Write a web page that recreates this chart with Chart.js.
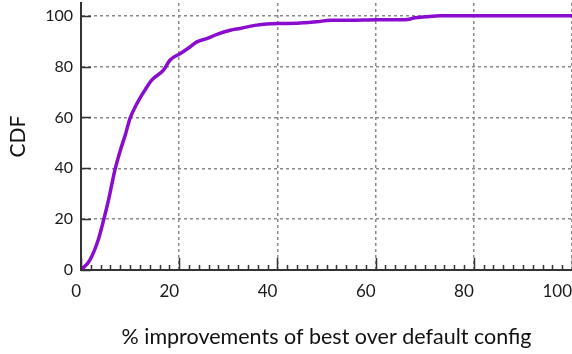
<!DOCTYPE html>
<html>
<head>
<meta charset="utf-8">
<script src="https://cdn.jsdelivr.net/npm/chart.js@4/dist/chart.umd.min.js"></script>
<style>
  html, body { margin: 0; padding: 0; background: #fff; }
  #wrap { width: 572px; height: 354px; }
</style>
</head>
<body>
<div id="wrap"><canvas id="cdf"></canvas></div>
<script>
// values
const improvement = [0, 1.8, 3.5, 4.6, 5.6, 6.9, 8, 9, 10, 11.4, 13, 14.4, 16.8, 18.1, 20.2, 22.2, 23.6, 25.6, 27.7, 30.4, 32.4, 35.8, 40.2, 44, 48, 50.8, 54.9, 60.3, 65, 66.5, 68, 70.2, 73.2, 80, 90, 100];
const cdf = [0, 3.9, 11.8, 19.6, 27.5, 39.3, 47, 53, 59.7, 65.5, 70.7, 74.7, 78.6, 82.5, 85.1, 87.7, 89.7, 91, 92.7, 94.3, 95, 96.3, 96.9, 97, 97.6, 98.2, 98.2, 98.4, 98.4, 98.5, 99.2, 99.6, 100, 100, 100, 100];
const xTicks = [0, 20, 40, 60, 80, 100];
const yTicks = [0, 20, 40, 60, 80, 100];

const FONT = "Lato, 'Open Sans', sans-serif";
const axisColor = "#333";

// short solid ticks pointing into the plot, plus minor x ticks every 2
const innerTicks = {
  id: "innerTicks",
  afterDatasetsDraw(chart) {
    const ctx = chart.ctx;
    const x = chart.scales.x;
    const y = chart.scales.y;
    const area = chart.chartArea;
    ctx.save();
    ctx.strokeStyle = axisColor;
    ctx.lineWidth = 1.5;
    ctx.beginPath();
    for (let v = 0; v <= 100; v += 2) {
      const px = Math.round(x.getPixelForValue(v)) + 0.5;
      const len = v % 20 === 0 ? 12 : 5;
      ctx.moveTo(px, area.bottom);
      ctx.lineTo(px, area.bottom - len);
    }
    yTicks.forEach((v) => {
      const py = Math.round(y.getPixelForValue(v)) + 0.5;
      ctx.moveTo(area.left, py);
      ctx.lineTo(area.left + 10, py);
    });
    ctx.stroke();
    ctx.restore();
  },
};

new Chart(document.getElementById("cdf"), {
  type: "line",
  data: {
    datasets: [
      {
        data: improvement.map((v, i) => ({ x: v, y: cdf[i] })),
        borderColor: "#8a0ccf",
        borderWidth: 3.5,
        pointRadius: 0,
        cubicInterpolationMode: "monotone",
        fill: false,
      },
    ],
  },
  options: {
    responsive: true,
    maintainAspectRatio: false,
    animation: false,
    layout: { padding: { top: 3, right: 0, left: 0, bottom: 0 } },
    scales: {
      x: {
        type: "linear",
        min: 0,
        max: 100,
        afterBuildTicks: (s) => { s.ticks = xTicks.map((v) => ({ value: v })); },
        afterFit: (s) => {
          s.height = 84;
          s.paddingLeft = 0;
          s.paddingRight = 0;
        },
        ticks: {
          align: "end",
          padding: 11,
          font: { family: FONT, size: 17 },
          color: "#1a1a1a",
        },
        grid: { drawTicks: false, color: "#8a8a8a", lineWidth: 1.5 },
        border: { display: true, color: axisColor, width: 2, dash: [3, 3] },
        title: {
          display: true,
          text: "% improvements of best over default config",
          font: { family: FONT, size: 21.5 },
          color: "#111",
          padding: { top: 0, bottom: 4 },
        },
      },
      y: {
        type: "linear",
        min: 0,
        max: 105,
        afterBuildTicks: (s) => { s.ticks = yTicks.map((v) => ({ value: v })); },
        afterFit: (s) => {
          s.width = 81;
          s.paddingTop = 0;
          s.paddingBottom = 0;
        },
        ticks: {
          padding: 8,
          font: { family: FONT, size: 16 },
          color: "#1a1a1a",
        },
        grid: { drawTicks: false, color: "#8a8a8a", lineWidth: 1.5 },
        border: { display: true, color: axisColor, width: 2, dash: [3, 3] },
        title: {
          display: true,
          text: "CDF",
          font: { family: FONT, size: 21 },
          color: "#111",
          padding: { top: 6, bottom: 0 },
        },
      },
    },
    plugins: {
      legend: { display: false },
      tooltip: { enabled: false },
    },
  },
  plugins: [innerTicks],
});
</script>
</body>
</html>
